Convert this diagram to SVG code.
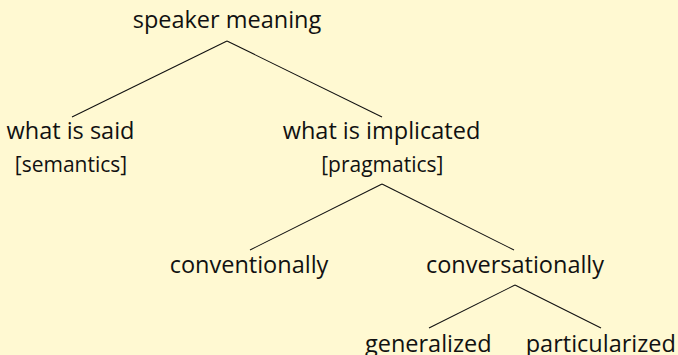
<svg xmlns="http://www.w3.org/2000/svg" width="678" height="355" viewBox="0 0 678 355">
<style>
.t{font-family:"Open Sans","Noto Sans",sans-serif;font-size:23.5px;fill:#111;text-anchor:middle}
.s{font-size:21px}
.c line{stroke:#111;stroke-width:1.1;fill:none}
</style>
<rect x="0" y="0" width="678" height="355" fill="#FFF9D2"/>
<g class="c" id="connectors">
<line x1="227" y1="41" x2="72" y2="117"/>
<line x1="227" y1="41" x2="382" y2="117"/>
<line x1="382" y1="184" x2="250" y2="250"/>
<line x1="382" y1="184" x2="514" y2="250"/>
<line x1="515" y1="285" x2="429" y2="328"/>
<line x1="515" y1="285" x2="601" y2="328"/>
</g>
<g id="speaker-meaning"><text class="t" x="227" y="28">speaker meaning</text></g>
<g id="what-is-said"><text class="t" x="70.5" y="139">what is said</text><text class="t s" x="71" y="172">[semantics]</text></g>
<g id="what-is-implicated"><text class="t" x="381.5" y="139">what is implicated</text><text class="t s" x="382.3" y="172">[pragmatics]</text></g>
<g id="conventionally"><text class="t" x="249" y="273">conventionally</text></g>
<g id="conversationally"><text class="t" x="515" y="273">conversationally</text></g>
<g id="generalized"><text class="t" x="428.3" y="351.5">generalized</text></g>
<g id="particularized"><text class="t" x="600.8" y="351.5">particularized</text></g>
</svg>
